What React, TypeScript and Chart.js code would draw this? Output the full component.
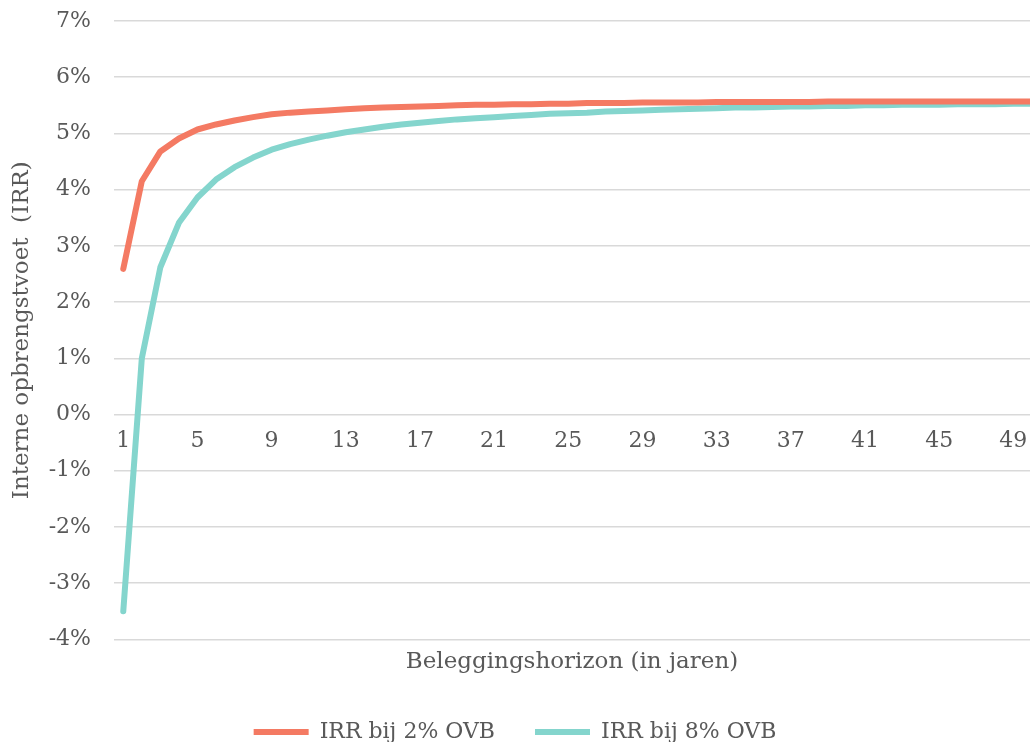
import React, { useEffect, useRef } from "react";
import { Chart, registerables } from "chart.js";

Chart.register(...registerables);

const years: number[] = Array.from({ length: 50 }, (_, i) => i + 1);
const tickYears: number[] = [1, 5, 9, 13, 17, 21, 25, 29, 33, 37, 41, 45, 49];

const irr2: number[] = [
  2.59, 4.15, 4.68, 4.91, 5.07, 5.16, 5.23, 5.29, 5.34, 5.37,
  5.39, 5.41, 5.43, 5.45, 5.46, 5.47, 5.48, 5.49, 5.5, 5.51,
  5.51, 5.52, 5.52, 5.53, 5.53, 5.54, 5.54, 5.54, 5.55, 5.55,
  5.55, 5.55, 5.56, 5.56, 5.56, 5.56, 5.56, 5.56, 5.57, 5.57,
  5.57, 5.57, 5.57, 5.57, 5.57, 5.57, 5.57, 5.57, 5.57, 5.57,
];

const irr8: number[] = [
  -3.5, 1.0, 2.62, 3.41, 3.86, 4.18, 4.4, 4.57, 4.71, 4.81,
  4.89, 4.96, 5.02, 5.07, 5.12, 5.16, 5.19, 5.22, 5.25, 5.27,
  5.29, 5.31, 5.33, 5.35, 5.36, 5.37, 5.39, 5.4, 5.41, 5.42,
  5.43, 5.44, 5.45, 5.46, 5.46, 5.47, 5.48, 5.48, 5.49, 5.49,
  5.5, 5.5, 5.51, 5.51, 5.51, 5.52, 5.52, 5.52, 5.53, 5.53,
];

const seriesNames: string[] = ["IRR bij 2% OVB", "IRR bij 8% OVB"];
const yTitle = "Interne opbrengstvoet  (IRR)";
const xTitle = "Beleggingshorizon (in jaren)";

const FONT = "'DejaVu Serif', serif";
const TEXT = "#595959";

export default function App() {
  const ref = useRef<HTMLCanvasElement | null>(null);

  useEffect(() => {
    document.documentElement.style.overflow = "hidden";
    document.body.style.overflow = "hidden";
    if (!ref.current) return;
    const chart = new Chart(ref.current, {
      type: "line",
      data: {
        datasets: [
          {
            label: seriesNames[0],
            data: years.map((x, i) => ({ x, y: irr2[i] })),
            borderColor: "#F47A63",
            backgroundColor: "#F47A63",
            borderWidth: 6,
            pointRadius: 0,
            borderCapStyle: "round",
            borderJoinStyle: "round",
            tension: 0,
          },
          {
            label: seriesNames[1],
            data: years.map((x, i) => ({ x, y: irr8[i] })),
            borderColor: "#84D5CD",
            backgroundColor: "#84D5CD",
            borderWidth: 6,
            pointRadius: 0,
            borderCapStyle: "round",
            borderJoinStyle: "round",
            tension: 0,
          },
        ],
      },
      options: {
        animation: false,
        responsive: true,
        maintainAspectRatio: false,
        layout: { padding: { top: 21, right: 0, bottom: 7, left: 0 } },
        scales: {
          x: {
            type: "linear",
            position: { y: 0 } as any,
            min: 0.5,
            max: 49.9,
            afterBuildTicks: (scale: any) => {
              scale.ticks = tickYears.map((v) => ({ value: v }));
            },
            grid: { display: false, drawTicks: true, tickLength: 14 },
            border: { display: false },
            ticks: {
              autoSkip: false,
              maxRotation: 0,
              padding: 0,
              color: TEXT,
              font: { family: FONT, size: 22 },
              callback: (v: any) => String(v),
            },
          },
          y: {
            min: -4,
            max: 7,
            afterFit: (scale: any) => {
              scale.width = 114;
            },
            ticks: {
              stepSize: 1,
              padding: 1,
              color: TEXT,
              font: { family: FONT, size: 22 },
              callback: (v: any) => v + "%",
            },
            grid: {
              color: "#D9D9D9",
              lineWidth: 1.5,
              drawTicks: true,
              tickLength: 22,
              tickColor: "rgba(0,0,0,0)",
            },
            border: { display: false },
            title: {
              display: true,
              text: yTitle,
              color: TEXT,
              font: { family: FONT, size: 23 },
              padding: { top: 8, bottom: 0 },
            },
          },
        },
        plugins: {
          tooltip: { enabled: false },
          title: {
            display: true,
            position: "bottom",
            text: xTitle,
            fullSize: false,
            weight: 500,
            color: TEXT,
            font: { family: FONT, size: 23, weight: "normal" },
            padding: { top: 9, bottom: 5 },
          } as any,
          legend: {
            position: "bottom",
            labels: {
              usePointStyle: true,
              pointStyle: "line",
              pointStyleWidth: 55,
              padding: 40,
              color: TEXT,
              font: { family: FONT, size: 22 },
            },
          },
        },
      },
    });
    return () => chart.destroy();
  }, []);

  return (
    <div style={{ position: "absolute", left: 0, top: 0, width: 1030, height: 760 }}>
      <canvas ref={ref} />
    </div>
  );
}
